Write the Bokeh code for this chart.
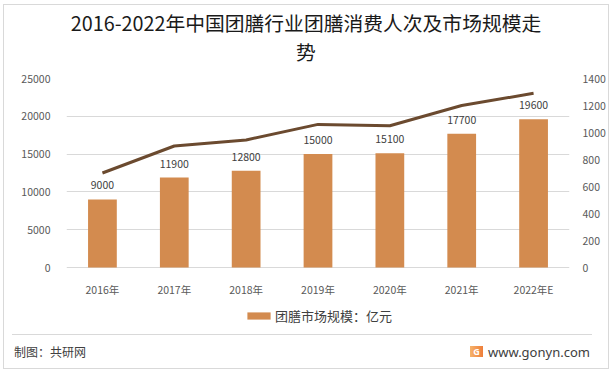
from bokeh.plotting import figure
from bokeh.layouts import column
from bokeh.core.properties import value
from bokeh.models import (ColumnDataSource, FactorRange, Range1d, LinearAxis, LabelSet,
                          Legend, LegendItem, FixedTicker, Div)
from bokeh.embed import file_html
from bokeh.resources import INLINE

# ---- data ----
years = ["2016年", "2017年", "2018年", "2019年", "2020年", "2021年", "2022年E"]
market_size = [9000, 11900, 12800, 15000, 15100, 17700, 19600]      # 亿元 (left axis)
consumers = [700, 900, 945, 1060, 1050, 1200, 1290]                 # 人次 (right axis)
left_ticks = [0, 5000, 10000, 15000, 20000, 25000]
right_ticks = [0, 200, 400, 600, 800, 1000, 1200, 1400]
left_max = 25000
right_max = 1400
title_line1 = "2016-2022年中国团膳行业团膳消费人次及市场规模走"
title_line2 = "势"
legend_label = "团膳市场规模：亿元"
source_text = "制图：共研网"
site_text = "www.gonyn.com"

FONT = "Noto Sans CJK SC"
BAR = "#D38B4F"
LINE = "#6B4A2F"
GRID = "#D9D9D9"
TXT = "#595959"
W = 604

# ---- layout geometry (pixels) ----
HEAD_H = 65
MAIN_H = 258
FOOT_H = 40
FRAME_TOP = 8            # frame top inside main figure
PLOT_PX = 189            # pixels from frame top down to value 0
BELOW_PX = MAIN_H - FRAME_TOP - PLOT_PX   # room under the zero line (x labels, legend)

# ---- header (title) ----
def line_div(text, top, h, size, color):
    return (f'<div style="position:absolute;left:0;top:{top}px;width:{W}px;height:{h}px;'
            f'line-height:{h}px;text-align:center;font-size:{size}px;color:{color}">'
            f'{text}</div>')

head_html = (f'<div style="position:relative;width:{W}px;height:{HEAD_H}px;overflow:hidden;'
             f'font-family:\'{FONT}\';white-space:nowrap">'
             + line_div(title_line1, 4, 28, 19.8, "#1A1A1A")
             + line_div(title_line2, 33, 28, 19.8, "#1A1A1A")
             + '</div>')
head = Div(text=head_html, width=W, height=HEAD_H, margin=0)

# ---- main chart ----
src = ColumnDataSource(dict(year=years, size=market_size, cons=consumers,
                            base=[0] * len(years),
                            lab=[str(v) for v in market_size]))

y_min = -BELOW_PX * left_max / PLOT_PX
r_min = -BELOW_PX * right_max / PLOT_PX

p = figure(width=W, height=MAIN_H, x_range=FactorRange(*years),
           y_range=Range1d(y_min, left_max),
           output_backend="svg", toolbar_location=None, tools="", title=None)
p.extra_y_ranges = {"r": Range1d(r_min, right_max)}
p.min_border_left = 62
p.min_border_right = 38
p.min_border_top = FRAME_TOP
p.min_border_bottom = 0
p.outline_line_color = None
p.background_fill_color = "white"
p.border_fill_color = "white"
p.xaxis.visible = False

p.yaxis.ticker = FixedTicker(ticks=left_ticks)
for ax in p.yaxis:
    ax.axis_line_color = None
    ax.major_tick_line_color = None
    ax.minor_tick_line_color = None
    ax.major_label_text_font = FONT
    ax.major_label_text_font_size = "10.5px"
    ax.major_label_text_color = TXT
    ax.major_label_standoff = 10

rax = LinearAxis(y_range_name="r", ticker=FixedTicker(ticks=right_ticks))
rax.axis_line_color = None
rax.major_tick_line_color = None
rax.minor_tick_line_color = None
rax.major_label_text_font = FONT
rax.major_label_text_font_size = "10.5px"
rax.major_label_text_color = TXT
rax.major_label_standoff = 7
p.add_layout(rax, "right")

p.xgrid.grid_line_color = None
p.ygrid.grid_line_color = GRID

bars = p.vbar(x="year", top="size", width=0.4, source=src, fill_color=BAR, line_color=None)
p.line(x="year", y="cons", source=src, y_range_name="r", line_color=LINE, line_width=3)

# value labels above bars
p.add_layout(LabelSet(x="year", y="size", text="lab", source=src, y_offset=14,
                      text_align="center", text_baseline="middle", text_font=value(FONT),
                      text_font_size="10.5px", text_color="#404040"))
# category labels under the zero line
p.add_layout(LabelSet(x="year", y="base", text="year", source=src, y_offset=-22,
                      text_align="center", text_baseline="middle", text_font=value(FONT),
                      text_font_size="10.5px", text_color=TXT))

legend = Legend(items=[LegendItem(label=legend_label, renderers=[bars])],
                location=(178, 3), orientation="horizontal",
                border_line_color=None, background_fill_alpha=0,
                label_text_font=FONT, label_text_font_size="13px", label_text_color="#404040",
                glyph_width=29, glyph_height=9, label_height=17,
                padding=0, margin=0, label_standoff=2)
p.add_layout(legend)

# ---- footer ----
foot_html = (f'<div style="position:relative;width:{W}px;height:{FOOT_H}px;overflow:hidden;'
             f'font-family:\'{FONT}\';white-space:nowrap">'
             f'<div style="position:absolute;left:8px;top:6px;width:580px;height:1px;background:{GRID}"></div>'
             f'<div style="position:absolute;left:10px;top:14px;height:20px;line-height:20px;'
             f'font-size:12px;color:#404040">{source_text}</div>'
             f'<div style="position:absolute;left:466px;top:18px;width:13px;height:11px;'
             f'background:linear-gradient(90deg,#F6B36B,#EE7E3A);color:white;font:bold 9px \'Noto Sans\';'
             f'line-height:11px;text-align:center">G</div>'
             f'<div style="position:absolute;left:484px;top:14px;height:20px;line-height:20px;'
             f'font-family:\'Noto Sans\';font-size:13px;color:#404040">{site_text}</div>'
             '</div>')
foot = Div(text=foot_html, width=W, height=FOOT_H, margin=0)

layout = column(head, p, foot, spacing=0, margin=(4, 0, 0, 3),
                styles={"border": "1px solid #D9D9D9", "box-sizing": "content-box"})

open("out.html", "w").write(file_html(layout, INLINE))
